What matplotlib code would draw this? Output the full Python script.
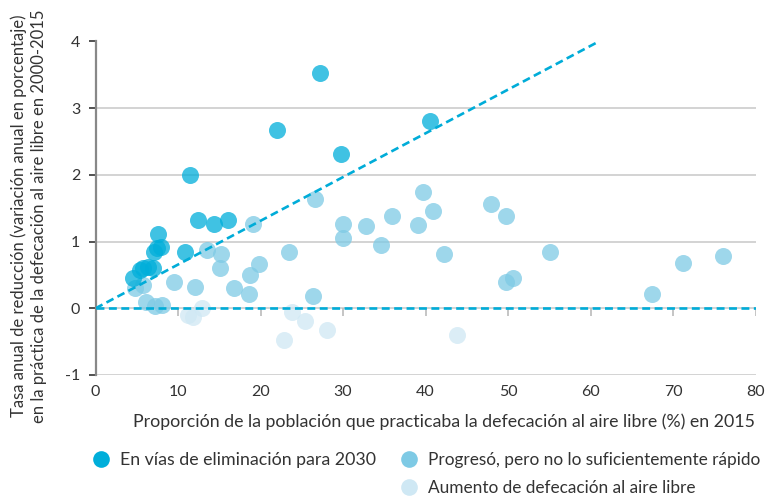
import matplotlib
matplotlib.use("Agg")
import matplotlib.pyplot as plt
from matplotlib.lines import Line2D

plt.rcParams['font.family'] = ['Lato', 'DejaVu Sans']

# on track to eliminate open defecation by 2030
dark_x = [27.2, 22.0, 40.5, 29.7, 11.45, 12.4, 14.4, 16.0, 7.6, 10.85,
          7.4, 7.95, 7.1, 6.4, 5.8, 7.0, 5.4, 4.6]
dark_y = [3.53, 2.67, 2.81, 2.31, 2.0, 1.32, 1.26, 1.32, 1.12, 0.84,
          0.9, 0.92, 0.85, 0.62, 0.6, 0.6, 0.57, 0.45]

# progress, but not fast enough
mid_x = [19.05, 13.5, 15.2, 15.1, 18.7, 19.85, 9.5, 12.0, 16.8, 18.6,
         4.8, 5.8, 6.1, 7.2, 8.0, 26.6, 30.0, 29.95, 32.75, 35.9,
         34.6, 39.7, 40.95, 39.05, 42.2, 23.5, 26.4, 47.9, 49.7, 55.1,
         49.8, 50.6, 67.5, 71.25, 76.0]
mid_y = [1.26, 0.88, 0.81, 0.60, 0.50, 0.66, 0.40, 0.32, 0.30, 0.21,
         0.30, 0.35, 0.09, 0.03, 0.05, 1.64, 1.26, 1.06, 1.23, 1.39,
         0.95, 1.74, 1.46, 1.25, 0.82, 0.84, 0.19, 1.57, 1.38, 0.84,
         0.39, 0.45, 0.21, 0.68, 0.79]

# open defecation increasing
light_x = [12.9, 11.25, 11.85, 23.8, 25.4, 28.1, 22.8, 43.8]
light_y = [0.0, -0.10, -0.13, -0.06, -0.19, -0.33, -0.48, -0.40]

# reference lines
target_x = [0, 61]
target_y = [0, 4]
zero_x = [0, 80]
zero_y = [0, 0]

xticks = [0, 10, 20, 30, 40, 50, 60, 70, 80]
yticks = [-1, 0, 1, 2, 3, 4]
ytick_labels = ["-1", "0", "1", "2", "3", "4"]

labels = ["En vías de eliminación para 2030",
          "Progresó, pero no lo suficientemente rápido",
          "Aumento de defecación al aire libre"]

c_dark = "#00AEDA"
c_mid = "#7ECAE5"
c_light = "#CFE8F4"
c_line = "#00ACD8"
c_text = "#333333"

fig = plt.figure(figsize=(7.72, 4.99), dpi=100)
ax = fig.add_axes([95.5 / 772, 1 - 375 / 499, 660 / 772, 333.5 / 499])

ax.set_xlim(0, 80)
ax.set_ylim(-1, 4)

for y in yticks:
    ax.axhline(y, color="#cccccc", lw=1.2, zorder=0)

ax.scatter(light_x, light_y, s=150, color=c_light, alpha=0.75, linewidths=0, zorder=2)
ax.scatter(mid_x, mid_y, s=150, color=c_mid, alpha=0.75, linewidths=0, zorder=2)
ax.scatter(dark_x, dark_y, s=150, color=c_dark, alpha=0.75, linewidths=0, zorder=2)

ax.plot(zero_x, zero_y, color=c_line, lw=1.9, dashes=(3, 1.7), zorder=3)
ax.plot(target_x, target_y, color=c_line, lw=1.9, dashes=(3, 1.7), zorder=3)

# x ticks sit on the zero line
ax.vlines(xticks, -0.11, 0, color="#bbbbbb", lw=1.2, zorder=1)

for s in ["top", "right", "bottom"]:
    ax.spines[s].set_visible(False)
ax.spines["left"].set_color("#888888")
ax.spines["left"].set_linewidth(1.6)

ax.set_xticks(xticks)
ax.set_xticklabels([str(v) for v in xticks])
ax.set_yticks(yticks)
ax.set_yticklabels(ytick_labels)
ax.tick_params(axis="x", length=0, pad=7, labelsize=11.5, labelcolor=c_text)
ax.tick_params(axis="y", length=5, width=1.1, color="#222222", pad=6,
               labelsize=11.5, labelcolor=c_text)

fig.text(755 / 772, 1 - 422 / 499,
         "Proporción de la población que practicaba la defecación al aire libre (%) en 2015",
         ha="right", va="center", fontsize=12.8, color=c_text)
fig.text(29 / 772, 1 - 216 / 499,
         "Tasa anual de reducción (variación anual en porcentaje)\n"
         "en la práctica de la defecación al aire libre en 2000-2015",
         ha="center", va="center", rotation=90, fontsize=12, color=c_text,
         linespacing=1.3)

def handle(c):
    return Line2D([], [], marker="o", linestyle="none", markersize=12,
                  markerfacecolor=c, markeredgewidth=0)

leg1 = fig.legend([handle(c_dark)], labels[:1], loc="upper left",
                  bbox_to_anchor=(92 / 772, 1 - 452 / 499), frameon=False,
                  fontsize=12.8, handlelength=1, handletextpad=0.6,
                  labelcolor=c_text, borderaxespad=0, borderpad=0)
leg2 = fig.legend([handle(c_mid), handle(c_light)], labels[1:], loc="upper left",
                  bbox_to_anchor=(400 / 772, 1 - 452 / 499), frameon=False,
                  fontsize=12.4, handlelength=1, handletextpad=0.65,
                  labelcolor=c_text, borderaxespad=0, borderpad=0, labelspacing=0.7)

fig.savefig("out.png", dpi=100)
